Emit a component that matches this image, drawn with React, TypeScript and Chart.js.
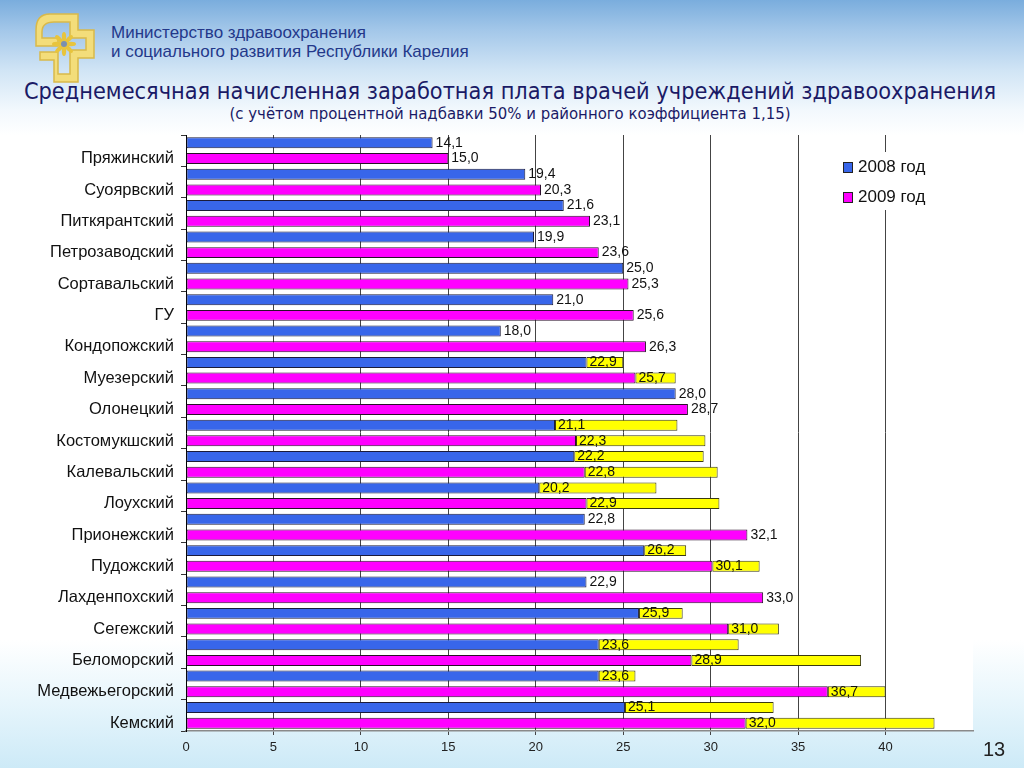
import React, { useEffect, useRef } from 'react';
import { Chart, registerables } from 'chart.js';

Chart.register(...registerables);

const categories = [
  'Пряжинский', 'Суоярвский', 'Питкярантский', 'Петрозаводский', 'Сортавальский',
  'ГУ', 'Кондопожский', 'Муезерский', 'Олонецкий', 'Костомукшский',
  'Калевальский', 'Лоухский', 'Прионежский', 'Пудожский', 'Лахденпохский',
  'Сегежский', 'Беломорский', 'Медвежьегорский', 'Кемский',
];

const seriesNames = ['2008 год', '2009 год'];

const salary2008 = [14.1, 19.4, 21.6, 19.9, 25.0, 21.0, 18.0, 22.9, 28.0, 21.1, 22.2, 20.2, 22.8, 26.2, 22.9, 25.9, 23.6, 23.6, 25.1];
const salary2009 = [15.0, 20.3, 23.1, 23.6, 25.3, 25.6, 26.3, 25.7, 28.7, 22.3, 22.8, 22.9, 32.1, 30.1, 33.0, 31.0, 28.9, 36.7, 32.0];

// end of the yellow bars (null = no yellow bar)
const yellowEnd2008: (number | null)[] = [null, null, null, null, null, null, null, 25.0, null, 28.1, 29.6, 26.9, null, 28.6, null, 28.4, 31.6, 25.7, 33.6];
const yellowEnd2009: (number | null)[] = [null, null, null, null, null, null, null, 28.0, null, 29.7, 30.4, 30.5, null, 32.8, null, 33.9, 38.6, 40.0, 42.8];

const xMax = 45;
const xStep = 5;
const xLastLabel = 40;

const BLUE = '#3866ea';
const MAGENTA = '#ff00ff';
const YELLOW = '#ffff00';

const fmt = (v: number) => v.toFixed(1).replace('.', ',');
const FONT = '"Liberation Sans", Arial, Helvetica, sans-serif';

const plotBg = {
  id: 'plotBg',
  beforeDraw(chart: any) {
    const { ctx, chartArea } = chart;
    ctx.save();
    ctx.fillStyle = '#ffffff';
    ctx.fillRect(chartArea.left, chartArea.top, chartArea.right - chartArea.left, chartArea.bottom - chartArea.top);
    ctx.restore();
  },
};

const valueLabels = {
  id: 'valueLabels',
  afterDatasetsDraw(chart: any) {
    const ctx = chart.ctx;
    ctx.save();
    ctx.font = `14px ${FONT}`;
    ctx.fillStyle = '#111';
    ctx.textBaseline = 'middle';
    ctx.textAlign = 'left';
    [0, 2].forEach((di) => {
      const meta = chart.getDatasetMeta(di);
      const data = chart.data.datasets[di].data as number[];
      meta.data.forEach((el: any, i: number) => {
        ctx.fillText(fmt(data[i]), el.x + 3, el.y);
      });
    });
    ctx.restore();
  },
};

const boxLegend = {
  id: 'boxLegend',
  afterDraw(chart: any) {
    const { ctx, chartArea } = chart;
    const left = chartArea.right - 135;
    const top = chartArea.top + 17;
    ctx.save();
    ctx.fillStyle = '#ffffff';
    ctx.fillRect(left, top, 108, 58);
    ctx.font = `17px ${FONT}`;
    ctx.textBaseline = 'middle';
    ctx.textAlign = 'left';
    [0, 2].forEach((di, k) => {
      const ds = chart.data.datasets[di];
      const cy = top + 15 + k * 30;
      ctx.fillStyle = ds.backgroundColor;
      ctx.fillRect(left + 5, cy - 5, 9, 10);
      ctx.strokeStyle = '#222';
      ctx.lineWidth = 1;
      ctx.strokeRect(left + 5.5, cy - 4.5, 9, 10);
      ctx.fillStyle = '#111';
      ctx.fillText(ds.label, left + 20, cy);
    });
    ctx.restore();
  },
};

function BarChart() {
  const ref = useRef<HTMLCanvasElement | null>(null);
  useEffect(() => {
    if (!ref.current) return;
    const extra2008 = yellowEnd2008.map((t, i) => (t == null ? null : +(t - salary2008[i]).toFixed(2)));
    const extra2009 = yellowEnd2009.map((t, i) => (t == null ? null : +(t - salary2009[i]).toFixed(2)));
    const chart = new Chart(ref.current, {
      type: 'bar',
      data: {
        labels: categories,
        datasets: [
          { label: seriesNames[0], data: salary2008, backgroundColor: BLUE, borderColor: '#1b1b3a', borderWidth: 1, borderSkipped: false, stack: 's2008' },
          { label: 'extra2008', data: extra2008 as any, backgroundColor: YELLOW, borderColor: '#3a3a10', borderWidth: 1, borderSkipped: false, stack: 's2008' },
          { label: seriesNames[1], data: salary2009, backgroundColor: MAGENTA, borderColor: '#2a102a', borderWidth: 1, borderSkipped: false, stack: 's2009' },
          { label: 'extra2009', data: extra2009 as any, backgroundColor: YELLOW, borderColor: '#3a3a10', borderWidth: 1, borderSkipped: false, stack: 's2009' },
        ],
      },
      options: {
        indexAxis: 'y',
        responsive: false,
        animation: false,
        maintainAspectRatio: false,
        datasets: { bar: { barPercentage: 0.7, categoryPercentage: 1.0 } },
        layout: { padding: { top: 135, right: 51, bottom: 7, left: 0 } },
        plugins: { legend: { display: false }, tooltip: { enabled: false }, title: { display: false } },
        scales: {
          x: {
            type: 'linear',
            stacked: true,
            min: 0,
            max: xMax,
            position: 'bottom',
            afterFit: (s: any) => { s.height = 30; },
            ticks: {
              stepSize: xStep,
              font: { size: 13, family: FONT },
              color: '#222',
              padding: 5,
              callback: (v: any) => (v > xLastLabel ? '' : String(v)),
            },
            grid: {
              color: (c: any) => (c.tick && (c.tick.value === 0 || c.tick.value > xLastLabel) ? 'rgba(0,0,0,0)' : '#444'),
              lineWidth: 1,
              tickLength: 4,
            },
            border: { color: '#8a8a8a', width: 1.5 },
          },
          y: {
            type: 'category',
            stacked: true,
            afterFit: (s: any) => { s.width = 186; },
            ticks: { font: { size: 16.5, family: FONT }, color: '#111', labelOffset: 8, padding: 7 },
            grid: { drawOnChartArea: false, offset: true, tickLength: 5, color: '#333' },
            border: { color: '#000', width: 1 },
          },
        },
      },
      plugins: [plotBg, valueLabels, boxLegend],
    });
    return () => chart.destroy();
  }, []);
  return <canvas ref={ref} width={1024} height={768} style={{ position: 'absolute', left: 0, top: 0, width: 1024, height: 768 }} />;
}

function Logo() {
  return (
    <svg width={80} height={80} viewBox="0 0 80 80" style={{ position: 'absolute', left: 28, top: 8 }}>
      <path
        d="M22 6 H50 V22 H66 V50 H50 V74 H26 V52 H12 V44 H30 V66 H42 V42 H58 V30 H42 V14 H26 Q14 14 14 24 V30 H30 V38 H8 V22 Q8 6 22 6 Z"
        fill="#f3dd7a"
        stroke="#d9b94a"
        strokeWidth={1.5}
      />
      <g transform="translate(36,36)">
        {[0, 45, 90, 135, 180, 225, 270, 315].map((a) => (
          <ellipse key={a} cx={0} cy={-7} rx={2.2} ry={5} fill="#e8c43c" transform={`rotate(${a})`} />
        ))}
        <circle cx={0} cy={0} r={3} fill="#7a8fb0" />
      </g>
    </svg>
  );
}

export default function App() {
  return (
    <div
      style={{
        position: 'fixed',
        left: 0,
        top: 0,
        width: 1024,
        height: 768,
        overflow: 'hidden',
        background:
          'linear-gradient(to bottom, #7aaddd 0px, #a3c7e9 30px, #d0e4f5 70px, #f2f8fd 110px, #ffffff 135px, #ffffff 640px, #e8f6fc 700px, #cdeaf7 768px)',
        fontFamily: FONT,
      }}
    >
      <Logo />
      <div style={{ position: 'absolute', left: 111, top: 23, fontSize: 17, lineHeight: '19px', color: '#23388a', whiteSpace: 'nowrap' }}>
        Министерство здравоохранения
        <br />
        и социального развития Республики Карелия
      </div>
      <div
        style={{
          position: 'absolute',
          left: 0,
          width: 1020,
          top: 77,
          textAlign: 'center',
          fontFamily: '"DejaVu Sans Condensed", "DejaVu Sans", sans-serif',
          fontSize: 23.3,
          lineHeight: '27px',
          color: '#1a1a66',
          whiteSpace: 'nowrap',
        }}
      >
        Среднемесячная начисленная заработная плата врачей учреждений здравоохранения
      </div>
      <div
        style={{
          position: 'absolute',
          left: 0,
          width: 1020,
          top: 104,
          textAlign: 'center',
          fontFamily: '"DejaVu Sans Condensed", "DejaVu Sans", sans-serif',
          fontSize: 16.6,
          lineHeight: '20px',
          color: '#1a1a66',
          whiteSpace: 'nowrap',
        }}
      >
        (с учётом процентной надбавки 50% и районного коэффициента 1,15)
      </div>
      <BarChart />
      <div style={{ position: 'absolute', left: 983, top: 738, fontSize: 20, color: '#222' }}>13</div>
    </div>
  );
}
